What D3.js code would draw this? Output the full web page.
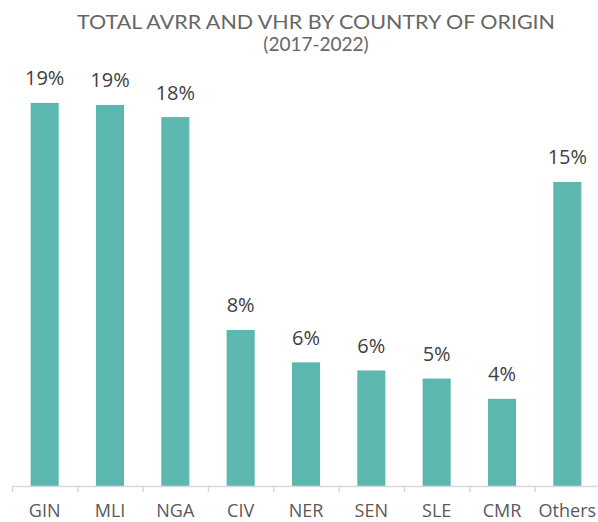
<!DOCTYPE html>
<html><head><meta charset="utf-8">
<script src="https://cdn.jsdelivr.net/npm/d3@7"></script>
<style>html,body{margin:0;padding:0;background:#fff;}svg{display:block;}</style>
</head><body>
<svg id="chart" width="598" height="522"></svg>
<script>
const categories = ["GIN","MLI","NGA","CIV","NER","SEN","SLE","CMR","Others"];
const shares = [18.9, 18.8, 18.2, 7.7, 6.1, 5.7, 5.3, 4.3, 15.0];
const titleLines = ["TOTAL AVRR AND VHR BY COUNTRY OF ORIGIN", "(2017-2022)"];

const svg = d3.select("#chart");
const x = d3.scaleBand().domain(categories).range([12, 600]).paddingInner(0.57).paddingOuter(0.285);
const y = d3.scaleLinear().domain([0, 20]).range([486, 80.6]);

svg.append("g").selectAll("rect").data(categories).join("rect")
  .attr("x", d => x(d)).attr("width", x.bandwidth())
  .attr("y", (d,i) => y(shares[i])).attr("height", (d,i) => y(0) - y(shares[i]))
  .attr("fill", "#5cb8ae");

svg.append("g").selectAll("text").data(categories).join("text")
  .attr("x", d => x(d) + x.bandwidth()/2)
  .attr("y", (d,i) => y(shares[i]) - 17.5)
  .attr("text-anchor", "middle")
  .attr("font-family", "'Open Sans', sans-serif").attr("font-size", 20)
  .attr("fill", "#404040")
  .text((d,i) => Math.round(shares[i]) + "%");

const axis = d3.axisBottom(x).tickSize(0).tickPadding(0);
const ax = svg.append("g").attr("transform", `translate(0,${y(0)})`).call(axis);
ax.select(".domain").remove();
ax.selectAll("text").attr("dy", null).attr("y", 31)
  .attr("font-family", "'Open Sans', sans-serif").attr("font-size", 18).attr("fill", "#595959");
const step = x.step();
ax.append("line").attr("x1", 12).attr("x2", 598).attr("y1", 0.5).attr("y2", 0.5)
  .attr("stroke", "#d9d9d9").attr("stroke-width", 1.5);
ax.selectAll(".sep").data(d3.range(categories.length + 1)).join("line")
  .attr("class","sep")
  .attr("x1", i => 12.5 + i*step).attr("x2", i => 12.5 + i*step)
  .attr("y1", 0).attr("y2", 6).attr("stroke", "#d9d9d9").attr("stroke-width", 1.5);

const t = svg.append("g").attr("font-family", "Lato, sans-serif").attr("font-weight", 400).attr("fill", "#666666").attr("text-anchor", "middle");
t.append("text").attr("x", 316).attr("y", 29).attr("font-size", 20).attr("textLength", 478).attr("lengthAdjust","spacingAndGlyphs").text(titleLines[0]);
t.append("text").attr("x", 316).attr("y", 51).attr("font-size", 19).text(titleLines[1]);
</script>
</body></html>
